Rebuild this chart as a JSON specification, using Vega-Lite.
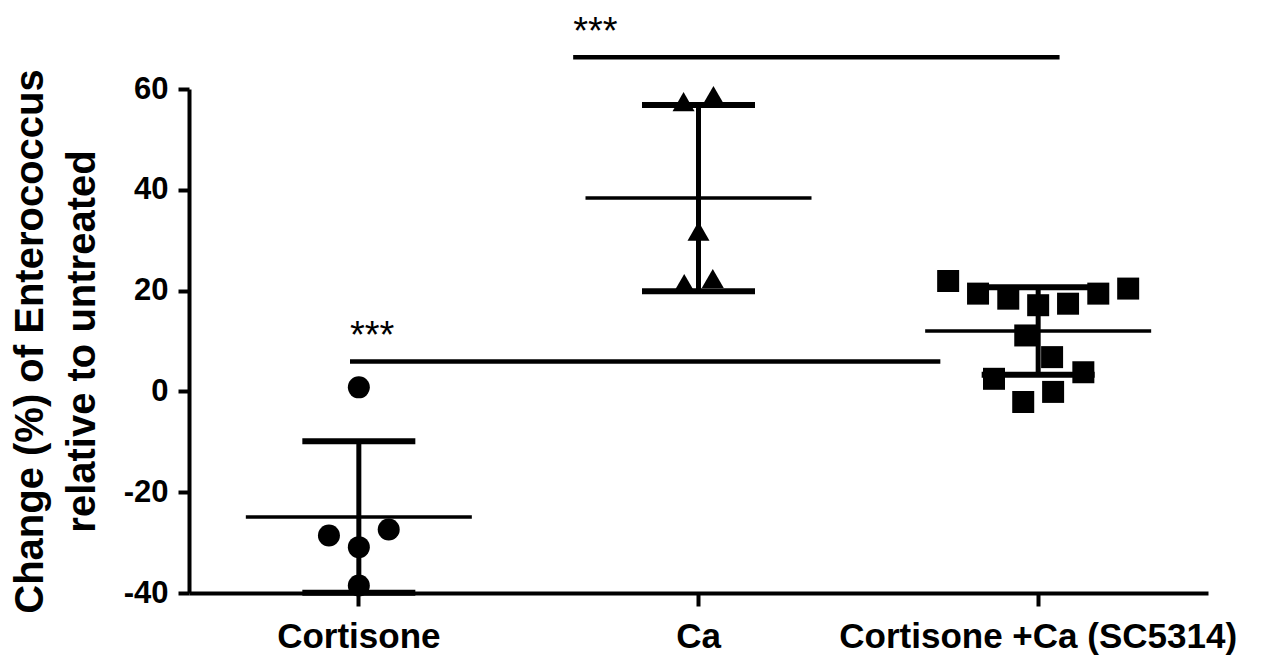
{
  "$schema": "https://vega.github.io/schema/vega-lite/v6.json",
  "width": 1019,
  "height": 504,
  "autosize": {"type": "none"},
  "padding": {"left": 189, "top": 89, "right": 53, "bottom": 63},
  "background": "white",
  "config": {"view": {"stroke": null}, "font": "Liberation Sans"},
  "datasets": {
    "points": [
      {"group": "Cortisone", "value": 0.8, "jitter": 0},
      {"group": "Cortisone", "value": -28.6, "jitter": -0.088},
      {"group": "Cortisone", "value": -30.9, "jitter": 0},
      {"group": "Cortisone", "value": -27.4, "jitter": 0.088},
      {"group": "Cortisone", "value": -38.5, "jitter": 0},
      {"group": "Ca", "value": 57.5, "jitter": -0.044},
      {"group": "Ca", "value": 58.7, "jitter": 0.044},
      {"group": "Ca", "value": 31.8, "jitter": 0},
      {"group": "Ca", "value": 21.4, "jitter": -0.042},
      {"group": "Ca", "value": 22.4, "jitter": 0.042},
      {"group": "Cortisone +Ca (SC5314)", "value": 21.9, "jitter": -0.265},
      {"group": "Cortisone +Ca (SC5314)", "value": 19.4, "jitter": -0.177},
      {"group": "Cortisone +Ca (SC5314)", "value": 18.4, "jitter": -0.088},
      {"group": "Cortisone +Ca (SC5314)", "value": 17.1, "jitter": 0},
      {"group": "Cortisone +Ca (SC5314)", "value": 17.4, "jitter": 0.088},
      {"group": "Cortisone +Ca (SC5314)", "value": 19.4, "jitter": 0.177},
      {"group": "Cortisone +Ca (SC5314)", "value": 20.4, "jitter": 0.265},
      {"group": "Cortisone +Ca (SC5314)", "value": 11.1, "jitter": -0.038},
      {"group": "Cortisone +Ca (SC5314)", "value": 6.8, "jitter": 0.041},
      {"group": "Cortisone +Ca (SC5314)", "value": 2.5, "jitter": -0.13},
      {"group": "Cortisone +Ca (SC5314)", "value": 3.8, "jitter": 0.133},
      {"group": "Cortisone +Ca (SC5314)", "value": -2.1, "jitter": -0.044},
      {"group": "Cortisone +Ca (SC5314)", "value": -0.1, "jitter": 0.044}
    ],
    "sig": [
      {"start": 0.974, "end": 2.712, "value": 5.95, "label": "***"},
      {"start": 1.631, "end": 3.063, "value": 66.3, "label": "***"}
    ]
  },
  "layer": [
    {
      "data": {"name": "points"},
      "layer": [
        {
          "mark": {"type": "errorbar", "extent": "stdev", "color": "black", "ticks": {"size": 113, "thickness": 6, "color": "black", "opacity": 1}, "rule": {"strokeWidth": 5, "color": "black"}},
          "encoding": {
            "x": {"field": "group", "type": "nominal",
              "scale": {"type": "band", "paddingInner": 0, "paddingOuter": 0, "domain": ["Cortisone", "Ca", "Cortisone +Ca (SC5314)"]},
              "axis": {"title": null, "labelAngle": 0, "labelFontSize": 35, "labelFontWeight": "bold", "labelColor": "black", "labelLimit": 800, "tickSize": 13, "tickWidth": 4, "tickColor": "black", "domainWidth": 4, "domainColor": "black", "labelPadding": 13, "bandPosition": 0.5, "grid": false}},
            "y": {"field": "value", "type": "quantitative",
              "scale": {"domain": [-40, 60], "nice": false, "zero": false},
              "axis": {"title": ["Change (%) of Enterococcus", "relative to untreated"], "titleFontSize": 40, "titleFontWeight": "bold", "titleColor": "black", "titleLineHeight": 52, "titlePadding": 21, "titleLimit": 2000, "values": [-40, -20, 0, 20, 40, 60], "labelExpr": "'' + datum.value", "labelFontSize": 31, "labelFontWeight": "bold", "labelColor": "black", "labelPadding": 10, "tickSize": 11, "tickWidth": 4, "tickColor": "black", "domainWidth": 4, "domainColor": "black", "grid": false, "labelFlush": false}}
          }
        },
        {
          "mark": {"type": "tick", "color": "black", "size": 226, "thickness": 3.5, "opacity": 1},
          "encoding": {
            "x": {"field": "group", "type": "nominal"},
            "y": {"aggregate": "mean", "field": "value", "type": "quantitative"}
          }
        },
        {
          "mark": {"type": "point", "filled": true, "opacity": 1, "size": 484, "color": "black", "strokeWidth": 0},
          "encoding": {
            "x": {"field": "group", "type": "nominal"},
            "xOffset": {"field": "jitter", "type": "quantitative", "scale": {"domain": [-0.5, 0.5], "nice": false, "zero": false}},
            "y": {"field": "value", "type": "quantitative"},
            "shape": {"field": "group", "type": "nominal", "legend": null,
              "scale": {"domain": ["Cortisone", "Ca", "Cortisone +Ca (SC5314)"], "range": ["circle", "triangle-up", "square"]}}
          }
        }
      ]
    },
    {
      "data": {"name": "sig"},
      "layer": [
        {
          "mark": {"type": "rule", "strokeWidth": 4.5, "color": "black"},
          "encoding": {
            "x": {"field": "start", "type": "quantitative", "scale": {"domain": [0.5, 3.5], "nice": false, "zero": false}, "axis": null},
            "x2": {"field": "end"},
            "y": {"field": "value", "type": "quantitative"}
          }
        },
        {
          "mark": {"type": "text", "align": "left", "baseline": "alphabetic", "dy": -13, "fontSize": 38, "color": "black", "font": "Liberation Sans"},
          "encoding": {
            "x": {"field": "start", "type": "quantitative"},
            "y": {"field": "value", "type": "quantitative"},
            "text": {"field": "label"}
          }
        }
      ]
    }
  ],
  "resolve": {"scale": {"x": "independent"}, "axis": {"x": "independent"}}
}
